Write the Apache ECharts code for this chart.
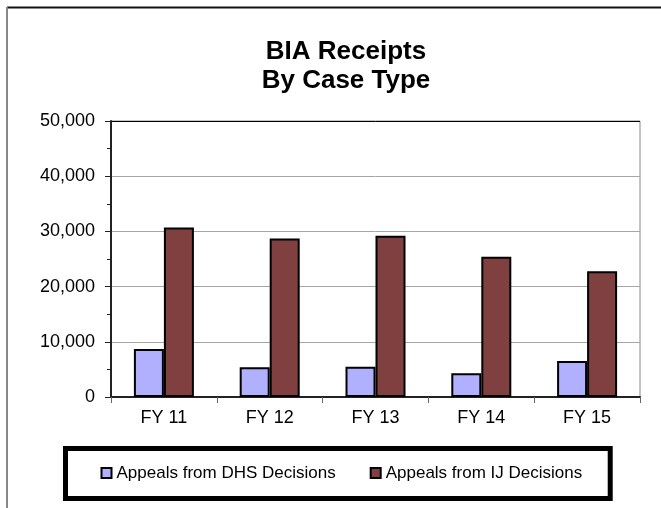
<!DOCTYPE html>
<html>
<head>
<meta charset="utf-8">
<script src="https://cdn.jsdelivr.net/npm/echarts@6/dist/echarts.min.js"></script>
<style>
  html, body { margin: 0; padding: 0; background: #fff; }
  #chart { width: 661px; height: 508px; }
</style>
</head>
<body>
<div id="chart"></div>
<script>
// data
var categories = ['FY 11', 'FY 12', 'FY 13', 'FY 14', 'FY 15'];
var dhsAppeals = [8700, 5400, 5500, 4300, 6500];
var ijAppeals = [30700, 28700, 29200, 25400, 22800];
var seriesNames = ['Appeals from DHS Decisions', 'Appeals from IJ Decisions'];

var font = 'Liberation Sans, Arial, sans-serif';

var chart = echarts.init(document.getElementById('chart'));
chart.setOption({
  animation: false,
  backgroundColor: '#fff',
  title: {
    text: 'BIA Receipts\nBy Case Type',
    left: 341,
    top: 32,
    textAlign: 'center',
    textStyle: { fontFamily: font, fontSize: 26, fontWeight: 'bold', color: '#000', lineHeight: 29 }
  },
  grid: {
    left: 111, right: 21, top: 121, bottom: 111,
    show: true, borderColor: '#888', borderWidth: 1
  },
  legend: {
    data: seriesNames,
    icon: 'rect',
    left: 65.5,
    top: 448.5,
    orient: 'horizontal',
    itemWidth: 10,
    itemHeight: 10,
    itemGap: 34,
    padding: [16, 28, 17, 35],
    borderColor: '#000',
    borderWidth: 5,
    backgroundColor: '#fff',
    textStyle: { fontFamily: font, fontSize: 17, color: '#000' }
  },
  xAxis: {
    type: 'category',
    data: categories,
    axisLine: { lineStyle: { color: '#222', width: 2 } },
    axisTick: { show: true, length: 6, lineStyle: { color: '#666', width: 1 } },
    axisLabel: { fontFamily: font, fontSize: 18, color: '#000', margin: 12 }
  },
  yAxis: {
    type: 'value',
    min: 0,
    max: 50000,
    interval: 10000,
    axisLine: { show: true, lineStyle: { color: '#222', width: 2 } },
    axisTick: { show: true, length: 6, lineStyle: { color: '#222' } },
    minorTick: { show: true, splitNumber: 2, length: 4, lineStyle: { color: '#222' } },
    splitLine: { lineStyle: { color: ['#a6a6a6', '#a6a6a6', '#a6a6a6', '#a6a6a6', '#a6a6a6', '#000'], width: 1 } },
    axisLabel: {
      fontFamily: font, fontSize: 18, color: '#000', margin: 16,
      formatter: function (v) { return v.toLocaleString('en-US'); }
    }
  },
  series: [
    {
      name: seriesNames[0],
      type: 'bar',
      data: dhsAppeals,
      barWidth: 30,
      barGap: '0%',
      itemStyle: { color: '#b0b0ff', borderColor: '#000', borderWidth: 2 }
    },
    {
      name: seriesNames[1],
      type: 'bar',
      data: ijAppeals,
      barWidth: 30,
      barGap: '0%',
      itemStyle: { color: '#804040', borderColor: '#000', borderWidth: 2 }
    }
  ],
  graphic: [
    { type: 'line', shape: { x1: 7, y1: 7.5, x2: 661, y2: 7.5 }, style: { stroke: '#111', lineWidth: 2 } },
    { type: 'line', shape: { x1: 7, y1: 7, x2: 7, y2: 508 }, style: { stroke: '#888', lineWidth: 2 } }
  ]
});
</script>
</body>
</html>
